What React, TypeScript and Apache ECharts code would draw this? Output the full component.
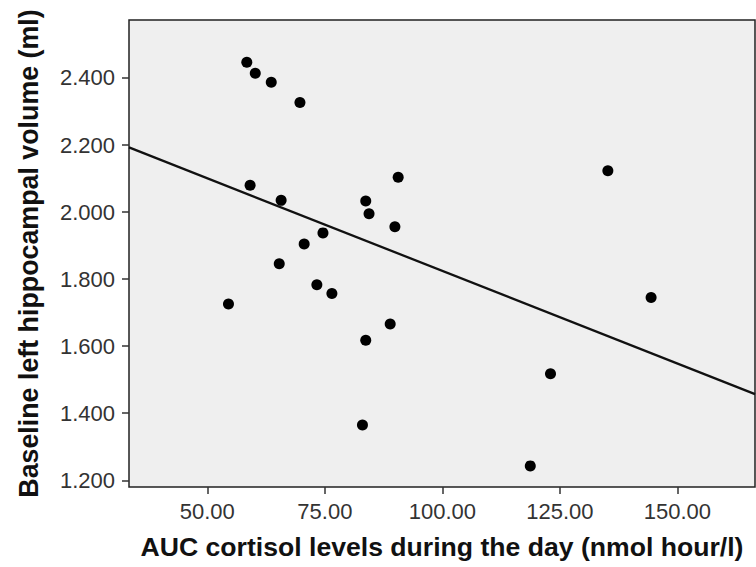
import React, { useEffect, useRef } from "react";
import * as echarts from "echarts";

const cortisolAUC = [58.4, 60.2, 63.6, 69.7, 59.1, 65.7, 83.7, 84.4, 89.9, 90.6, 74.6, 70.6, 65.3, 73.3, 76.5, 54.5, 88.9, 83.7, 83.0, 123.0, 118.7, 135.2, 144.4];
const hippocampalVolume = [2.447, 2.414, 2.387, 2.327, 2.080, 2.035, 2.033, 1.995, 1.956, 2.104, 1.938, 1.905, 1.846, 1.783, 1.757, 1.726, 1.666, 1.618, 1.365, 1.518, 1.243, 2.123, 1.745];
const fitLineX = [33.34, 166.5];
const fitLineY = [2.193, 1.457];
const xTicks = [50, 75, 100, 125, 150];
const yTicks = [1.2, 1.4, 1.6, 1.8, 2.0, 2.2, 2.4];

const FONT = "'Liberation Sans', Arial, Helvetica, sans-serif";

export default function App() {
  const ref = useRef<HTMLDivElement>(null);
  useEffect(() => {
    if (!ref.current) return;
    const chart = echarts.init(ref.current, null, { renderer: "svg" });
    const points = cortisolAUC.map((x, i) => [x, hippocampalVolume[i]]);
    const line = fitLineX.map((x, i) => [x, fitLineY[i]]);
    chart.setOption({
      animation: false,
      backgroundColor: "#ffffff",
      grid: {
        left: 129,
        top: 20,
        right: 1,
        bottom: 80,
        show: true,
        backgroundColor: "#efefef",
        borderColor: "#222222",
        borderWidth: 1.5,
      },
      xAxis: {
        type: "value",
        min: 33.34,
        max: 166.5,
        name: "AUC cortisol levels during the day (nmol hour/l)",
        nameLocation: "middle",
        nameGap: 46,
        nameTextStyle: { fontFamily: FONT, fontWeight: "bold", fontSize: 26.6, color: "#111" },
        axisLine: { show: false },
        splitLine: { show: false },
        axisTick: { show: true, length: 7, lineStyle: { color: "#333", width: 1.5 }, customValues: xTicks },
        axisLabel: {
          customValues: xTicks,
          margin: 13,
          fontFamily: FONT,
          fontSize: 22,
          color: "#333",
          formatter: (v: number) => v.toFixed(2),
        },
      },
      yAxis: {
        type: "value",
        min: 1.18,
        max: 2.573,
        name: "Baseline left hippocampal volume (ml)",
        nameLocation: "middle",
        nameGap: 87,
        nameTextStyle: { fontFamily: FONT, fontWeight: "bold", fontSize: 26.8, color: "#111" },
        axisLine: { show: false },
        splitLine: { show: false },
        axisTick: { show: true, length: 7, lineStyle: { color: "#333", width: 1.5 }, customValues: yTicks },
        axisLabel: {
          customValues: yTicks,
          margin: 14,
          fontFamily: FONT,
          fontSize: 22,
          color: "#333",
          formatter: (v: number) => v.toFixed(3),
        },
      },
      series: [
        {
          type: "line",
          data: line,
          symbol: "none",
          lineStyle: { color: "#111", width: 2.3 },
          silent: true,
        },
        {
          type: "scatter",
          data: points,
          symbol: "circle",
          symbolSize: 11,
          itemStyle: { color: "#000", opacity: 1 },
        },
      ],
    });
    return () => chart.dispose();
  }, []);
  return <div ref={ref} style={{ width: 756, height: 567, position: "absolute", left: 0, top: 0 }} />;
}
